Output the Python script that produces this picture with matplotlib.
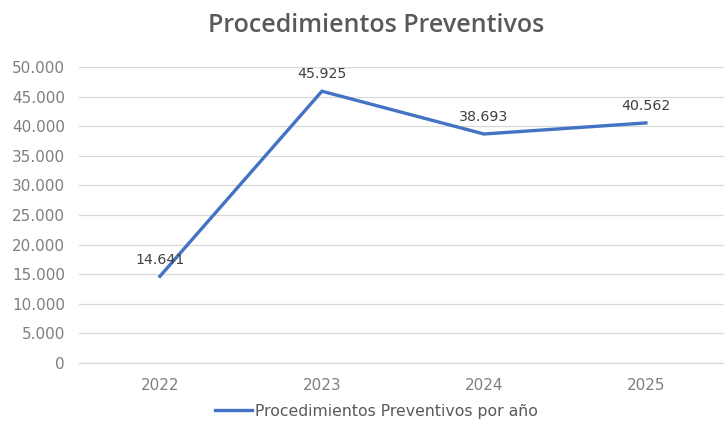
import matplotlib.pyplot as plt
from matplotlib.ticker import FuncFormatter

# Datos
anios = ["2022", "2023", "2024", "2025"]
procedimientos = [14641, 45925, 38693, 40562]
serie_nombre = "Procedimientos Preventivos por año"
titulo = "Procedimientos Preventivos"


def miles(v, pos=None):
    return f"{int(round(v)):,}".replace(",", ".")


plt.rcParams["font.family"] = ["DejaVu Sans"]

fig = plt.figure(figsize=(7.24, 4.22), dpi=100)
ax = fig.add_axes([0.109, 0.140, 0.895, 0.701])

x = range(len(anios))
ax.plot(x, procedimientos, color="#4472C4", linewidth=2.4, label=serie_nombre,
        solid_joinstyle="miter")

# Etiquetas de datos
for i, v in zip(x, procedimientos):
    ax.annotate(miles(v), (i, v), xytext=(0, 7), textcoords="offset points",
                ha="center", va="bottom", fontsize=10.2, color="#404040")

ax.set_xlim(-0.5, 3.5)
ax.set_ylim(0, 50000)
ax.set_yticks(range(0, 50001, 5000))
ax.yaxis.set_major_formatter(FuncFormatter(miles))
ax.set_xticks(list(x))
ax.set_xticklabels(anios)

ax.grid(axis="y", color="#D9D9D9", linewidth=0.9)
ax.axhline(0, color="#D9D9D9", linewidth=0.9, clip_on=False, zorder=0)
ax.set_axisbelow(True)
for s in ax.spines.values():
    s.set_visible(False)
ax.tick_params(axis="both", length=0, labelsize=11, labelcolor="#7F7F7F")
ax.tick_params(axis="x", pad=11)
ax.tick_params(axis="y", pad=10)

fig.text(0.52, 0.94, titulo, ha="center", va="center", fontsize=18,
         color="#595959", family=["Open Sans", "DejaVu Sans"], fontweight="semibold")

leg = fig.legend(loc="center", bbox_to_anchor=(0.52, 0.025), frameon=False,
                 fontsize=11.3, handlelength=2.4, handletextpad=0.2)
for t in leg.get_texts():
    t.set_color("#595959")

fig.savefig("out.png", dpi=100)
